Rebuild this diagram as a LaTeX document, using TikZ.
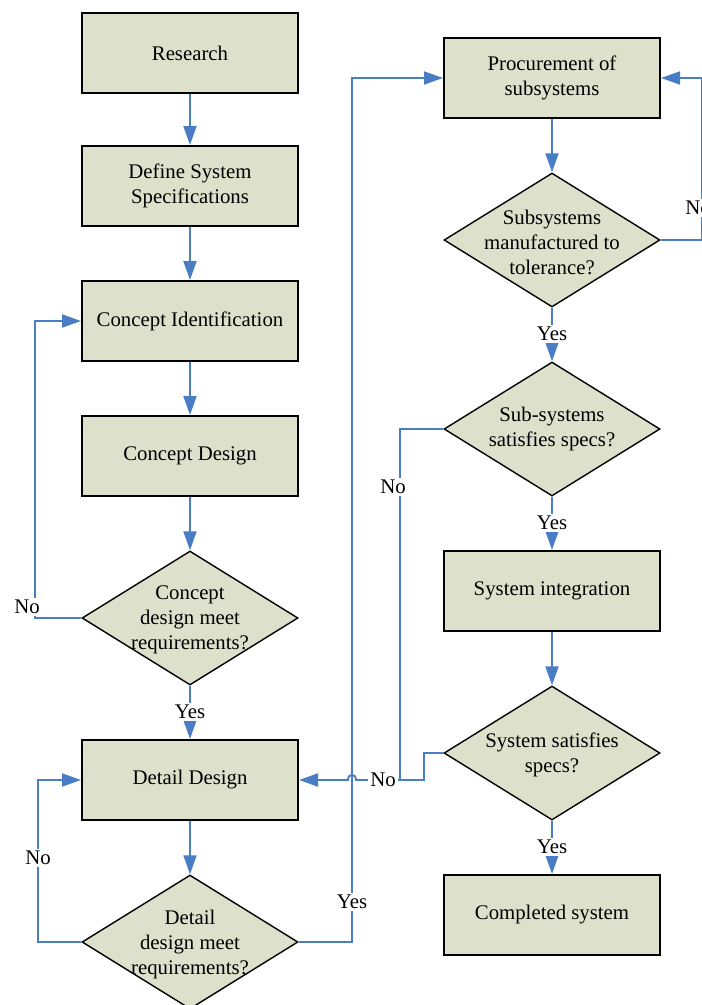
\documentclass[tikz,border=0pt]{standalone}
\usepackage{fontspec}
\setmainfont{Liberation Serif}
\usetikzlibrary{shapes.geometric,arrows.meta}
\definecolor{boxfill}{HTML}{DDE0CB}
\definecolor{flow}{HTML}{4A7EC4}
\tikzset{
  stepbox/.style={draw=black, line width=2pt, fill=boxfill, minimum width=216pt,
    minimum height=80pt, inner sep=0pt, align=center,
    font=\fontsize{20.8}{25}\selectfont},
  decision/.style={draw=black, line width=1.4pt, fill=boxfill, diamond,
    minimum width=216pt, minimum height=134pt, inner sep=0pt},
  qtext/.style={align=center, inner sep=0pt, font=\fontsize{20.8}{25}\selectfont},
  flowline/.style={draw=flow, line width=1.9pt},
  flowarrow/.style={flowline, -{Triangle[length=19pt,width=13pt]}},
  tag/.style={fill=white, inner sep=2pt, font=\fontsize{20.8}{25}\selectfont}
}
\begin{document}
\begin{tikzpicture}[x=1pt,y=-1pt]
\useasboundingbox (0,0) rectangle (702,1005);

% left column
\node[stepbox] (res) at (190,53) {Research};
\node[stepbox] (spec) at (190,186) {Define System\\Specifications};
\node[stepbox] (cid) at (190,321) {Concept Identification};
\node[stepbox] (cdes) at (190,456) {Concept Design};
\node[decision] (q1) at (190,618) {};
\node[qtext] (q1t) at (190,620) {Concept\\design meet\\requirements?};
\node[stepbox] (ddes) at (190,780) {Detail Design};
\node[decision] (q2) at (190,942) {};
\node[qtext] (q2t) at (190,944) {Detail\\design meet\\requirements?};

% right column
\node[stepbox] (proc) at (552,78) {Procurement of\\subsystems};
\node[decision] (q3) at (552,240) {};
\node[qtext] (q3t) at (552,242) {Subsystems\\manufactured to\\tolerance?};
\node[decision] (q4) at (552,429) {};
\node[qtext] (q4t) at (552,429) {Sub-systems\\satisfies specs?};
\node[stepbox] (integ) at (552,591) {System integration};
\node[decision] (q5) at (552,753) {};
\node[qtext] (q5t) at (552,755) {System satisfies\\specs?};
\node[stepbox] (done) at (552,915) {Completed system};

% routing points
\coordinate (c1a) at (35,618);
\coordinate (c1b) at (35,321);
\coordinate (c2a) at (38,942);
\coordinate (c2b) at (38,780);
\coordinate (c3a) at (352,942);
\coordinate (c3b) at (352,78);
\coordinate (c4a) at (702,240);
\coordinate (c4b) at (702,78);
\coordinate (c5a) at (400,429);
\coordinate (c5b) at (400,780);
\coordinate (c6a) at (424,753);
\coordinate (c6b) at (424,780);
\coordinate (jr) at (356,780);
\coordinate (jl) at (348,780);

% straight flow
\draw[flowarrow] (res) -- (spec);
\draw[flowarrow] (spec) -- (cid);
\draw[flowarrow] (cid) -- (cdes);
\draw[flowarrow] (cdes) -- (q1);
\draw[flowarrow] (q1) -- (ddes);
\draw[flowarrow] (ddes) -- (q2);
\draw[flowarrow] (proc) -- (q3);
\draw[flowarrow] (q3) -- (q4);
\draw[flowarrow] (q4) -- (integ);
\draw[flowarrow] (integ) -- (q5);
\draw[flowarrow] (q5) -- (done);

% loops
\draw[flowarrow] (q1.west) -- (c1a) -- (c1b) -- (cid.west);
\draw[flowarrow] (q2.west) -- (c2a) -- (c2b) -- (ddes.west);
\draw[flowarrow] (q2.east) -- (c3a) -- (c3b) -- (proc.west);
\draw[flowarrow] (q3.east) -- (c4a) -- (c4b) -- (proc.east);
\draw[flowline] (q4.west) -- (c5a) -- (c5b);
\draw[flowarrow] (q5.west) -- (c6a) -- (c6b) -- (jr)
  .. controls (356,773) and (348,773) .. (jl) -- (ddes.east);

% labels
\node[tag] (n1) at (27,607) {No};
\node[tag] (y1) at (190,712) {Yes};
\node[tag] (n2) at (38,858) {No};
\node[tag] (y2) at (352,902) {Yes};
\node[tag] (n3) at (698,208) {No};
\node[tag] (y3) at (552,334) {Yes};
\node[tag] (n4) at (393,487) {No};
\node[tag] (y4) at (552,523) {Yes};
\node[tag] (n5) at (383,780) {No};
\node[tag] (y5) at (552,847) {Yes};
\end{tikzpicture}
\end{document}
